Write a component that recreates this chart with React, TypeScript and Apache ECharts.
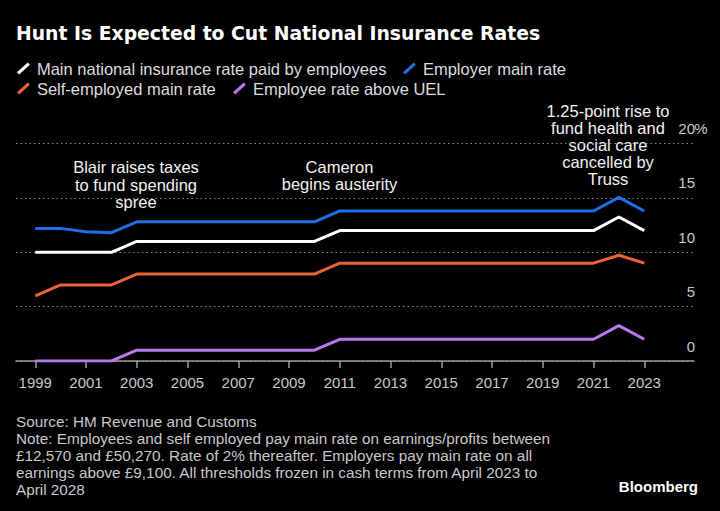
import React, { useEffect, useRef } from "react";
import * as echarts from "echarts";

const years = [1999, 2000, 2001, 2002, 2003, 2004, 2005, 2006, 2007, 2008, 2009, 2010, 2011, 2012, 2013, 2014, 2015, 2016, 2017, 2018, 2019, 2020, 2021, 2022, 2023];
const employeeRate = [10, 10, 10, 10, 11, 11, 11, 11, 11, 11, 11, 11, 12, 12, 12, 12, 12, 12, 12, 12, 12, 12, 12, 13.25, 12];
const employerRate = [12.2, 12.2, 11.9, 11.8, 12.8, 12.8, 12.8, 12.8, 12.8, 12.8, 12.8, 12.8, 13.8, 13.8, 13.8, 13.8, 13.8, 13.8, 13.8, 13.8, 13.8, 13.8, 13.8, 15.05, 13.8];
const selfEmployedRate = [6, 7, 7, 7, 8, 8, 8, 8, 8, 8, 8, 8, 9, 9, 9, 9, 9, 9, 9, 9, 9, 9, 9, 9.73, 9];
const aboveUelRate = [0, 0, 0, 0, 1, 1, 1, 1, 1, 1, 1, 1, 2, 2, 2, 2, 2, 2, 2, 2, 2, 2, 2, 3.25, 2];

const seriesNames = [
  "Main national insurance rate paid by employees",
  "Employer main rate",
  "Self-employed main rate",
  "Employee rate above UEL",
];
const xTickYears = [1999, 2001, 2003, 2005, 2007, 2009, 2011, 2013, 2015, 2017, 2019, 2021, 2023];
const yTickValues = [0, 5, 10, 15, 20];

const titleText = "Hunt Is Expected to Cut National Insurance Rates";
const noteLines = [
  "Source: HM Revenue and Customs",
  "Note: Employees and self employed pay main rate on earnings/profits between",
  "£12,570 and £50,270. Rate of 2% thereafter. Employers pay main rate on all",
  "earnings above £9,100. All thresholds frozen in cash terms from April 2023 to",
  "April 2028",
];
const blairNote = ["Blair raises taxes", "to fund spending", "spree"];
const cameronNote = ["Cameron", "begins austerity"];
const trussNote = ["1.25-point rise to", "fund health and", "social care", "cancelled by", "Truss"];

const FONT = "'Liberation Sans', Arial, sans-serif";
const TITLE_FONT = "'DejaVu Sans', sans-serif";
const colors = ["#ffffff", "#1f6fe8", "#ea6238", "#b978ee"];

export default function App() {
  const ref = useRef<HTMLDivElement>(null);
  useEffect(() => {
    document.body.style.margin = "0";
    document.body.style.background = "#000";
    const chart = echarts.init(ref.current as HTMLDivElement, null, { renderer: "svg" });
    const allValues = [employeeRate, employerRate, selfEmployedRate, aboveUelRate];
    const legendCommon = {
      icon: "path://M0.5,9.4 L2.5,11.6 L12.5,2.6 L10.5,0.4 Z",
      itemWidth: 13,
      itemHeight: 12,
      padding: 0,
      selectedMode: false,
      itemStyle: { borderWidth: 0 },
      textStyle: { color: "#dcdcdc", fontSize: 16.5, fontFamily: FONT, padding: [0, 0, 0, 2] },
    };
    const legendPos = [
      { left: 17, top: 60 },
      { left: 403, top: 60 },
      { left: 17, top: 80 },
      { left: 233, top: 80 },
    ];
    const noteText = (lines: string[], x: number, y: number, lh: number) => ({
      type: "text",
      x,
      y,
      style: {
        text: lines.join("\n"),
        fill: "#f2f2f2",
        fontSize: 16.5,
        fontFamily: FONT,
        lineHeight: lh,
        textAlign: "center",
        textVerticalAlign: "top",
      },
    });
    const option = {
      animation: false,
      backgroundColor: "#000000",
      textStyle: { fontFamily: FONT },
      title: {
        text: titleText,
        left: 16,
        top: 22,
        padding: 0,
        textStyle: { color: "#ffffff", fontSize: 18.8, fontWeight: "bold", fontFamily: TITLE_FONT, lineHeight: 22 },
      },
      legend: seriesNames.map((n, i) => ({ ...legendCommon, ...legendPos[i], data: [n] })),
      grid: { left: 16, right: 26, top: 143.6, bottom: 150, containLabel: false },
      xAxis: {
        type: "value",
        min: 1998.24,
        max: 2024.96,
        axisLine: { show: true, lineStyle: { color: "#9c9c9c", width: 1.5 } },
        axisTick: { show: true, length: 7, customValues: xTickYears, lineStyle: { color: "#9c9c9c", width: 1.5 } },
        axisLabel: {
          customValues: xTickYears,
          formatter: (v: number) => String(v),
          color: "#c8c8c8",
          fontSize: 15,
          fontFamily: FONT,
          margin: 14,
        },
        splitLine: { show: false },
      },
      yAxis: {
        type: "value",
        position: "right",
        min: 0,
        max: 20,
        interval: 5,
        axisLine: { show: false },
        axisTick: { show: false },
        splitLine: { show: true, lineStyle: { color: "#8a8a8a", type: [1.5, 3], width: 1 } },
        axisLabel: {
          inside: true,
          margin: -13,
          verticalAlign: "middle",
          padding: [0, 0, 30, 0],
          color: "#c8c8c8",
          fontSize: 15,
          fontFamily: FONT,
          customValues: yTickValues,
          formatter: (v: number) => (v === 20 ? `{n|${v}}{p|%}` : `{n|${v}}{p| }`),
          rich: {
            n: { color: "#c8c8c8", fontSize: 15, fontFamily: FONT },
            p: { color: "#c8c8c8", fontSize: 15, fontFamily: FONT, width: 12, align: "left" },
          },
        },
      },
      series: seriesNames.map((n, i) => ({
        name: n,
        type: "line",
        color: colors[i],
        symbol: "none",
        lineStyle: { width: 3, color: colors[i] },
        data: years.map((y, j) => [y, allValues[i][j]]),
      })),
      graphic: [
        noteText(blairNote, 136, 158.5, 17.5),
        noteText(cameronNote, 339.5, 158, 17.4),
        noteText(trussNote, 608, 102, 17.2),
        {
          type: "text",
          x: 16,
          y: 413.3,
          style: {
            text: noteLines.join("\n"),
            fill: "#c8c8c8",
            fontSize: 15.3,
            fontFamily: FONT,
            lineHeight: 16.9,
            textAlign: "left",
            textVerticalAlign: "top",
          },
        },
        {
          type: "text",
          x: 698,
          y: 486,
          style: {
            text: "Bloomberg",
            fill: "#ffffff",
            fontSize: 15,
            fontWeight: "bold",
            fontFamily: FONT,
            textAlign: "right",
            textVerticalAlign: "middle",
          },
        },
      ],
    };
    chart.setOption(option as any);
    return () => chart.dispose();
  }, []);
  return <div ref={ref} style={{ width: 720, height: 511 }} />;
}
